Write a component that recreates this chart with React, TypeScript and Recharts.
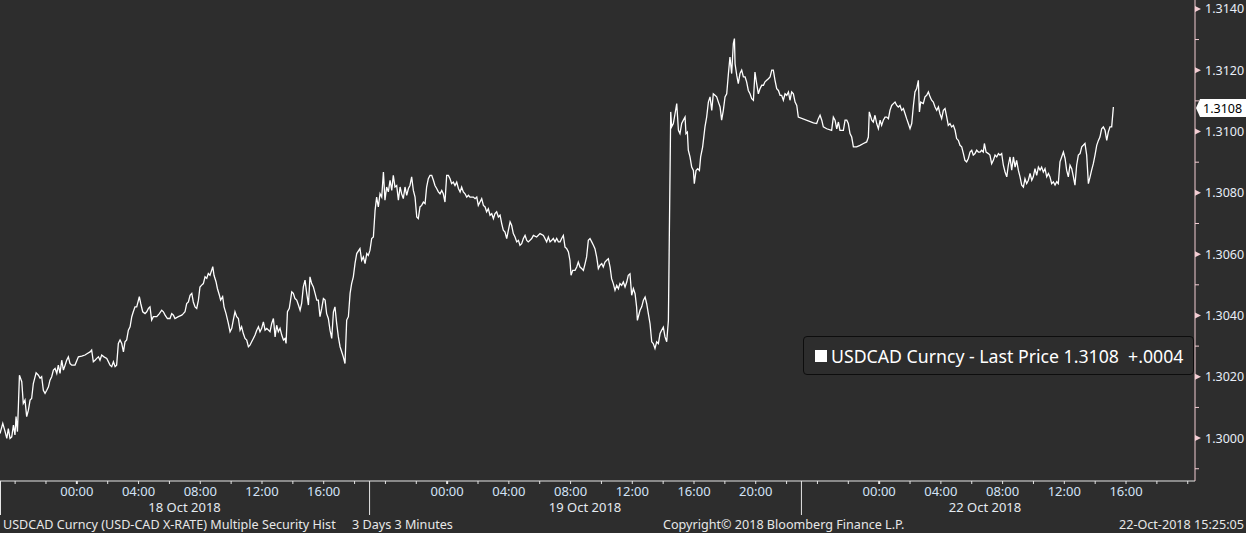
import React from 'react';
import { LineChart, Line, XAxis, YAxis, ReferenceLine, Legend } from 'recharts';

// chart hours: 0 = 18 Oct 00:00, weekend removed (22 Oct 00:00 = 52)
const oct18Session: [number, number][] = [
  [-4.98, 1.30015], [-4.8, 1.30048], [-4.65, 1.30021], [-4.54, 1.29999], [-4.44, 1.30031], [-4.33, 1.29999], [-4.22, 1.30004],
  [-4.11, 1.30042], [-4.01, 1.3001], [-3.94, 1.3007], [-3.85, 1.30021], [-3.79, 1.30102], [-3.72, 1.30205], [-3.57, 1.30184],
  [-3.47, 1.30113], [-3.36, 1.30124], [-3.25, 1.3007], [-3.14, 1.30091], [-3.03, 1.30124], [-2.93, 1.30129], [-2.82, 1.30178],
  [-2.64, 1.30213], [-2.49, 1.30205], [-2.38, 1.30195], [-2.28, 1.302], [-2.17, 1.30156], [-2.06, 1.30146], [-1.95, 1.30156],
  [-1.84, 1.30167], [-1.74, 1.30189], [-1.63, 1.302], [-1.52, 1.30222], [-1.41, 1.30227], [-1.3, 1.30211], [-1.2, 1.30238],
  [-1.09, 1.30211], [-0.98, 1.30254], [-0.87, 1.30222], [-0.76, 1.30238], [-0.66, 1.30254], [-0.55, 1.30265], [-0.44, 1.30243],
  [-0.33, 1.30238], [-0.12, 1.30238], [0.1, 1.30265], [0.32, 1.30267], [0.53, 1.30271], [0.68, 1.30276], [0.86, 1.30281],
  [0.96, 1.30287], [1.07, 1.30249], [1.18, 1.30254], [1.29, 1.3026], [1.4, 1.30265], [1.5, 1.30254], [1.61, 1.30271],
  [1.76, 1.30265], [1.94, 1.3026], [2.15, 1.30238], [2.26, 1.30233], [2.37, 1.30249], [2.48, 1.30233], [2.58, 1.30238],
  [2.69, 1.30309], [2.8, 1.3032], [2.91, 1.30309], [3.02, 1.30281], [3.12, 1.30314], [3.23, 1.3032], [3.34, 1.30352],
  [3.45, 1.30363], [3.56, 1.30396], [3.66, 1.30412], [3.77, 1.30428], [3.88, 1.30428], [4.05, 1.30461], [4.14, 1.30439],
  [4.27, 1.30412], [4.42, 1.30406], [4.53, 1.30412], [4.64, 1.30423], [4.74, 1.30428], [4.85, 1.30385], [4.96, 1.30396],
  [5.18, 1.30396], [5.35, 1.30406], [5.5, 1.30417], [5.61, 1.30412], [5.72, 1.30401], [5.87, 1.3039], [6.04, 1.3039],
  [6.15, 1.30406], [6.26, 1.30401], [6.36, 1.3039], [6.58, 1.30396], [6.8, 1.30401], [6.9, 1.30406], [7.01, 1.30412],
  [7.12, 1.30439], [7.23, 1.30444], [7.34, 1.30466], [7.45, 1.30472], [7.55, 1.30444], [7.66, 1.30428], [7.77, 1.30423],
  [7.88, 1.3045], [7.98, 1.30493], [8.09, 1.30499], [8.2, 1.30504], [8.31, 1.30526], [8.42, 1.30521], [8.52, 1.30537],
  [8.63, 1.30531], [8.74, 1.30548], [8.81, 1.30559], [8.89, 1.30531], [9.02, 1.3051], [9.11, 1.30488], [9.24, 1.30466],
  [9.32, 1.3045], [9.45, 1.30461], [9.54, 1.30428], [9.67, 1.30406], [9.82, 1.30374], [9.93, 1.30347], [10.04, 1.30358],
  [10.14, 1.30385], [10.25, 1.30412], [10.36, 1.30396], [10.47, 1.3039], [10.58, 1.30352], [10.68, 1.30363], [10.79, 1.30341],
  [10.9, 1.30325], [11.01, 1.3032], [11.12, 1.30298], [11.22, 1.30303], [11.33, 1.30314], [11.44, 1.30325], [11.55, 1.30336],
  [11.66, 1.30352], [11.77, 1.30363], [11.87, 1.30347], [11.98, 1.30358], [12.09, 1.30379], [12.2, 1.30352], [12.31, 1.30358],
  [12.52, 1.30347], [12.63, 1.30374], [12.74, 1.3039], [12.85, 1.3033], [12.95, 1.30368], [13.06, 1.30347], [13.17, 1.30358],
  [13.28, 1.30336], [13.39, 1.3032], [13.49, 1.30325], [13.56, 1.30309], [13.65, 1.30412], [13.77, 1.30423], [13.93, 1.30477],
  [14.03, 1.30472], [14.14, 1.30455], [14.25, 1.3045], [14.36, 1.30434], [14.47, 1.30417], [14.57, 1.30439], [14.68, 1.30493],
  [14.79, 1.30515], [14.9, 1.30472], [15.01, 1.30434], [15.11, 1.30526], [15.22, 1.30504], [15.33, 1.30493], [15.44, 1.30472],
  [15.55, 1.3045], [15.65, 1.3045], [15.76, 1.30396], [15.87, 1.30423], [15.98, 1.30455], [16.09, 1.3045], [16.19, 1.30406],
  [16.3, 1.3039], [16.41, 1.30352], [16.52, 1.30325], [16.63, 1.30412], [16.73, 1.30428], [16.84, 1.30374], [16.95, 1.3033],
  [17.06, 1.30298], [17.17, 1.30281], [17.27, 1.30265], [17.38, 1.30243], [17.49, 1.30385], [17.6, 1.30396], [17.71, 1.30472],
  [17.81, 1.30504], [17.92, 1.30526], [18.03, 1.3057], [18.14, 1.30602], [18.35, 1.30618], [18.46, 1.3058], [18.57, 1.30591],
  [18.68, 1.30569], [18.79, 1.30602], [18.89, 1.30596],
];

const oct19Session: [number, number][] = [
  [19.0, 1.30613], [19.11, 1.30651], [19.22, 1.30656], [19.33, 1.30743], [19.43, 1.30786], [19.54, 1.30754], [19.65, 1.30797],
  [19.76, 1.30786], [19.87, 1.30868], [19.97, 1.30776], [20.08, 1.30819], [20.19, 1.30803], [20.3, 1.30841], [20.41, 1.30808],
  [20.51, 1.30857], [20.62, 1.30819], [20.73, 1.30824], [20.84, 1.30776], [20.95, 1.30819], [21.05, 1.30797], [21.16, 1.30781],
  [21.27, 1.30819], [21.38, 1.30792], [21.49, 1.30814], [21.59, 1.30824], [21.7, 1.30852], [21.81, 1.30808], [21.92, 1.30786],
  [22.03, 1.30721], [22.13, 1.30716], [22.24, 1.30754], [22.35, 1.30759], [22.46, 1.3077], [22.57, 1.30765], [22.67, 1.30819],
  [22.78, 1.30846], [22.89, 1.30857], [23.0, 1.30857], [23.11, 1.30841], [23.21, 1.30824], [23.32, 1.30814], [23.43, 1.30803],
  [23.54, 1.30797], [23.65, 1.30808], [23.75, 1.30797], [23.86, 1.3077], [23.97, 1.30857], [24.08, 1.30857], [24.19, 1.30846],
  [24.29, 1.3083], [24.4, 1.30835], [24.51, 1.30824], [24.62, 1.30835], [24.73, 1.30814], [24.84, 1.30803], [24.94, 1.30819],
  [25.05, 1.30803], [25.16, 1.30797], [25.27, 1.30786], [25.38, 1.30792], [25.48, 1.30786], [25.7, 1.30786], [25.81, 1.30781],
  [25.92, 1.30786], [26.02, 1.30759], [26.13, 1.3077], [26.24, 1.30781], [26.35, 1.30759], [26.46, 1.30754], [26.56, 1.30738],
  [26.67, 1.30748], [26.78, 1.30727], [26.89, 1.30732], [27.0, 1.30716], [27.1, 1.30732], [27.21, 1.30738], [27.32, 1.30721],
  [27.43, 1.30727], [27.54, 1.30699], [27.64, 1.30678], [27.75, 1.30672], [27.86, 1.30651], [27.97, 1.30678], [28.08, 1.30705],
  [28.18, 1.30694], [28.29, 1.30667], [28.4, 1.30656], [28.51, 1.3064], [28.62, 1.30645], [28.72, 1.30629], [28.83, 1.30634],
  [28.94, 1.30651], [29.05, 1.30661], [29.16, 1.30645], [29.26, 1.3064], [29.37, 1.30645], [29.48, 1.30651], [29.59, 1.30661],
  [29.8, 1.30656], [30.02, 1.30667], [30.24, 1.30661], [30.45, 1.3064], [30.56, 1.30656], [30.67, 1.3064], [30.78, 1.30645],
  [30.88, 1.30651], [30.99, 1.3064], [31.1, 1.30651], [31.21, 1.3064], [31.32, 1.3064], [31.42, 1.30651], [31.53, 1.30661],
  [31.64, 1.30623], [31.75, 1.30618], [31.86, 1.30607], [31.96, 1.3058], [32.03, 1.30531], [32.14, 1.30547], [32.29, 1.30547],
  [32.4, 1.30558], [32.5, 1.30574], [32.61, 1.30558], [32.72, 1.30553], [32.83, 1.30547], [32.94, 1.30569], [33.04, 1.30591],
  [33.15, 1.30645], [33.26, 1.30651], [33.37, 1.3064], [33.48, 1.30629], [33.58, 1.30618], [33.69, 1.30591], [33.8, 1.30553],
  [33.91, 1.30564], [34.02, 1.30569], [34.12, 1.30558], [34.23, 1.30574], [34.34, 1.3058], [34.45, 1.30585], [34.56, 1.30558],
  [34.66, 1.3052], [34.77, 1.30504], [34.88, 1.30482], [34.99, 1.30498], [35.1, 1.30487], [35.2, 1.30504], [35.31, 1.30498],
  [35.42, 1.30509], [35.53, 1.30493], [35.64, 1.30509], [35.74, 1.30531], [35.85, 1.30536], [35.96, 1.30466], [36.07, 1.30488],
  [36.18, 1.30471], [36.28, 1.30428], [36.33, 1.30384], [36.5, 1.30417], [36.61, 1.30428], [36.72, 1.3045], [36.83, 1.3046],
  [36.93, 1.30439], [37.04, 1.30406], [37.15, 1.30373], [37.26, 1.30314], [37.36, 1.30308], [37.47, 1.30292], [37.58, 1.30314],
  [37.69, 1.30308], [37.8, 1.30341], [37.9, 1.30352], [38.01, 1.30362], [38.12, 1.3033], [38.23, 1.30314], [38.34, 1.30384],
  [38.49, 1.31064], [38.55, 1.31015], [38.66, 1.31026], [38.77, 1.31058], [38.88, 1.31091], [38.99, 1.31004], [39.09, 1.30993],
  [39.2, 1.31026], [39.31, 1.31037], [39.42, 1.31047], [39.48, 1.30993], [39.57, 1.30998], [39.63, 1.30939], [39.74, 1.30917],
  [39.85, 1.30884], [39.96, 1.30873], [40.02, 1.3083], [40.13, 1.30873], [40.24, 1.30879], [40.35, 1.30873], [40.43, 1.30917],
  [40.56, 1.3095], [40.71, 1.31015], [40.82, 1.31047], [40.93, 1.31096], [41.04, 1.31113], [41.15, 1.31069], [41.25, 1.31123],
  [41.36, 1.31118], [41.47, 1.31113], [41.58, 1.31096], [41.69, 1.3108], [41.79, 1.31037], [41.9, 1.31069], [42.01, 1.31113],
  [42.12, 1.31123], [42.23, 1.31189], [42.33, 1.31243], [42.44, 1.31189], [42.55, 1.31287], [42.62, 1.31303], [42.66, 1.31221],
  [42.77, 1.31183], [42.87, 1.31156], [42.98, 1.31189], [43.09, 1.312], [43.2, 1.31178], [43.31, 1.31178], [43.41, 1.31162],
  [43.52, 1.31134], [43.63, 1.31123], [43.74, 1.31107], [43.85, 1.31102], [43.95, 1.31194], [44.06, 1.31156], [44.17, 1.31123],
  [44.28, 1.3114], [44.39, 1.31151], [44.5, 1.31151], [44.6, 1.31162], [44.71, 1.31167], [44.82, 1.31172], [44.93, 1.31178],
  [45.04, 1.312], [45.14, 1.312], [45.25, 1.31167], [45.36, 1.3114], [45.47, 1.31134], [45.58, 1.31118], [45.68, 1.31118],
  [45.79, 1.31102], [45.9, 1.31123], [46.01, 1.31118], [46.12, 1.31129], [46.22, 1.31102], [46.33, 1.31129], [46.44, 1.31123],
  [46.55, 1.31096], [46.66, 1.31085], [46.76, 1.31047],
];

const oct22Session: [number, number][] = [
  [47.74, 1.31028], [47.95, 1.31026], [48.06, 1.31042], [48.17, 1.31053], [48.28, 1.31037], [48.38, 1.31015], [48.6, 1.31009],
  [48.92, 1.31004], [49.03, 1.31047], [49.14, 1.31037], [49.25, 1.31009], [49.36, 1.31031], [49.46, 1.31004], [49.68, 1.31004],
  [49.79, 1.31037], [49.9, 1.31037], [50.0, 1.31026], [50.11, 1.30993], [50.22, 1.30982], [50.33, 1.3095], [50.54, 1.3095],
  [50.76, 1.30955], [50.98, 1.30961], [51.19, 1.30966], [51.3, 1.30982], [51.36, 1.31064], [51.52, 1.31037], [51.62, 1.31031],
  [51.73, 1.31053], [51.84, 1.31026], [51.95, 1.31009], [52.06, 1.31037], [52.16, 1.3102], [52.27, 1.31037], [52.38, 1.31047],
  [52.49, 1.31047], [52.6, 1.31042], [52.7, 1.31069], [52.81, 1.31085], [52.92, 1.31091], [53.03, 1.31096], [53.14, 1.31085],
  [53.24, 1.3108], [53.35, 1.31085], [53.46, 1.31069], [53.57, 1.31075], [53.68, 1.31058], [53.78, 1.31042], [53.89, 1.31026],
  [54.0, 1.31009], [54.11, 1.31026], [54.22, 1.31085], [54.32, 1.31129], [54.43, 1.3114], [54.54, 1.31167], [54.61, 1.31064],
  [54.69, 1.31096], [54.86, 1.31091], [54.97, 1.31113], [55.08, 1.31118], [55.19, 1.31129], [55.3, 1.31113], [55.4, 1.31102],
  [55.51, 1.31096], [55.62, 1.3108], [55.73, 1.31069], [55.84, 1.3108], [55.94, 1.31058], [56.05, 1.31042], [56.16, 1.31069],
  [56.27, 1.31075], [56.38, 1.31047], [56.48, 1.3102], [56.59, 1.31026], [56.7, 1.31015], [56.81, 1.3102], [56.92, 1.31004],
  [57.02, 1.30977], [57.13, 1.30971], [57.24, 1.30955], [57.35, 1.3095], [57.46, 1.30928], [57.56, 1.30906], [57.67, 1.30901],
  [57.78, 1.30912], [57.89, 1.30933], [58.0, 1.30939], [58.1, 1.30923], [58.21, 1.30928], [58.32, 1.30939], [58.43, 1.30933],
  [58.54, 1.30933], [58.64, 1.30939], [58.75, 1.30933], [58.82, 1.30961], [58.93, 1.30933], [59.08, 1.30928], [59.18, 1.30923],
  [59.29, 1.30895], [59.4, 1.30906], [59.51, 1.30923], [59.62, 1.30917], [59.73, 1.30928], [59.83, 1.30923], [59.94, 1.30928],
  [60.05, 1.3089], [60.16, 1.30868], [60.27, 1.30852], [60.37, 1.3089], [60.48, 1.30917], [60.59, 1.30874], [60.7, 1.30917],
  [60.81, 1.30884], [60.91, 1.30906], [61.02, 1.30874], [61.13, 1.30852], [61.24, 1.30825], [61.35, 1.30819], [61.45, 1.30846],
  [61.56, 1.3083], [61.67, 1.30841], [61.78, 1.30863], [61.89, 1.30841], [61.99, 1.30852], [62.1, 1.30879], [62.21, 1.30857],
  [62.32, 1.30884], [62.43, 1.30874], [62.53, 1.30884], [62.64, 1.30868], [62.75, 1.30879], [62.86, 1.30852], [62.97, 1.30863],
  [63.07, 1.30852], [63.18, 1.3083], [63.29, 1.30836], [63.4, 1.30825], [63.51, 1.30836], [63.61, 1.3083], [63.72, 1.30901],
  [63.83, 1.30917], [63.94, 1.30933], [64.05, 1.30912], [64.15, 1.30874], [64.26, 1.30852], [64.37, 1.3089], [64.48, 1.30879],
  [64.59, 1.30852], [64.69, 1.30825], [64.8, 1.3089], [64.91, 1.30923], [65.02, 1.30928], [65.13, 1.3095], [65.23, 1.30955],
  [65.34, 1.30961], [65.45, 1.30923], [65.56, 1.3083], [65.67, 1.30852], [65.77, 1.30874], [65.88, 1.30895], [65.99, 1.30923],
  [66.1, 1.30955], [66.21, 1.30971], [66.31, 1.30982], [66.42, 1.31009], [66.53, 1.31015], [66.64, 1.31004], [66.75, 1.30971],
  [66.85, 1.30998], [66.96, 1.31015], [67.07, 1.31015], [67.18, 1.3108],
];

const lastPrice = 1.3108;
const lastChange = '+.0004';
const seriesName = 'USDCAD Curncy - Last Price';

// x axis: tick every 2 hours, labels every 4 hours inside each session
const hourTicks = [-4, -2, 0, 2, 4, 6, 8, 10, 12, 14, 16, 18, 20, 22, 24, 26, 28, 30, 32, 34, 36, 38, 40, 42, 44, 46,
  48, 50, 52, 54, 56, 58, 60, 62, 64, 66, 68, 70, 72];
const sessionBreaks = [-4.98, 18.94, 46.93];
const midnightHours = [0, 24, 52];
const labelHours = [0, 4, 8, 12, 16, 24, 28, 32, 36, 40, 44, 52, 56, 60, 64, 68];
const labelTexts = ['00:00', '04:00', '08:00', '12:00', '16:00', '00:00', '04:00', '08:00', '12:00', '16:00', '20:00',
  '00:00', '04:00', '08:00', '12:00', '16:00'];
const dateTicks = [6.98, 32.94, 58.86];
const dateLabels = ['18 Oct 2018', '19 Oct 2018', '22 Oct 2018'];

const yMajor = [1.3, 1.302, 1.304, 1.306, 1.308, 1.31, 1.312, 1.314];
const yMinor = [1.299, 1.301, 1.303, 1.305, 1.307, 1.309, 1.311, 1.313];

const BG = '#2d2d2d';
const FONT = '"Noto Sans", "DejaVu Sans", sans-serif';
const PINK = '#f3cdd3';

const data = [...oct18Session, ...oct19Session, ...oct22Session].map(([t, p]) => ({ t, p }));

function TimeTick(props: any) {
  const { x, y, payload } = props;
  const v = payload.value;
  if (sessionBreaks.includes(v)) {
    return <line x1={x + 0.5} x2={x + 0.5} y1={y} y2={y + 34} stroke="#e6e6e6" strokeWidth={1} />;
  }
  const d = dateTicks.indexOf(v);
  if (d >= 0) {
    return (
      <text x={x} y={y + 31} textAnchor="middle" fill="#e4eaf0" fontSize={13} fontFamily={FONT}>
        {dateLabels[d]}
      </text>
    );
  }
  const i = labelHours.indexOf(v);
  const mid = midnightHours.includes(v);
  return (
    <g>
      <line x1={x} x2={x} y1={y} y2={y + 3} stroke="#e6e6e6" strokeWidth={mid ? 2 : 1} />
      {i >= 0 && (
        <text x={x} y={y + 15} textAnchor="middle" fill="#d3e3f7" fontSize={13} fontFamily={FONT}>
          {labelTexts[i]}
        </text>
      )}
    </g>
  );
}

function PriceTick(props: any) {
  const { x, y, payload } = props;
  const v = payload.value;
  if (yMinor.includes(v)) {
    return <line x1={x} x2={x + 4} y1={y} y2={y} stroke={PINK} />;
  }
  return (
    <g>
      <polygon points={`${x},${y - 3} ${x + 6},${y} ${x},${y + 3}`} fill={PINK} />
      <text x={x + 10} y={y + 4.5} fill="#e8eef8" fontSize={12.5} fontFamily={FONT}>
        {v.toFixed(4)}
      </text>
    </g>
  );
}

function LastTag(props: any) {
  const vb = props.viewBox || {};
  const rx = vb.x + vb.width;
  const y = vb.y;
  return (
    <g>
      <polygon
        points={`${rx + 1},${y + 1} ${rx + 5},${y - 8} ${rx + 51},${y - 8} ${rx + 51},${y + 10} ${rx + 5},${y + 10}`}
        fill="#ffffff"
      />
      <text x={rx + 8} y={y + 6} fill="#000" fontSize={12.5} fontFamily={FONT}>
        {lastPrice.toFixed(4)}
      </text>
    </g>
  );
}

function LegendBox(props: any) {
  const name = props.payload && props.payload[0] ? props.payload[0].value : seriesName;
  return (
    <div
      style={{
        boxSizing: 'border-box',
        width: 391,
        height: 39,
        border: '1px solid #0d0d0d',
        borderRadius: 4,
        background: BG,
        display: 'flex',
        alignItems: 'center',
        paddingLeft: 11,
        fontFamily: FONT,
        fontSize: 17.7,
        color: '#ffffff',
        whiteSpace: 'pre',
      }}
    >
      <span style={{ display: 'inline-block', width: 12, height: 12, background: '#fff', marginRight: 4 }} />
      <span>{`${name} ${lastPrice.toFixed(4)}  ${lastChange}`}</span>
    </div>
  );
}

export default function App() {
  const footer: React.CSSProperties = {
    position: 'absolute',
    top: 516,
    height: 17,
    lineHeight: '17px',
    fontSize: 12.6,
    color: '#e8e8e8',
    whiteSpace: 'pre',
    fontFamily: FONT,
  };
  return (
    <div style={{ position: 'absolute', left: 0, top: 0, width: 1246, height: 533, background: BG, overflow: 'hidden' }}>
      <LineChart width={1246} height={515} data={data} margin={{ top: 0, right: 0, left: 0, bottom: 0 }}>
        <XAxis
          dataKey="t"
          type="number"
          domain={[-4.98, 72.47]}
          allowDataOverflow
          ticks={[...hourTicks, ...sessionBreaks, ...dateTicks]}
          interval={0}
          tick={<TimeTick />}
          tickLine={false}
          tickSize={0}
          tickMargin={0}
          axisLine={{ stroke: '#e6e6e6' }}
          height={34}
        />
        <YAxis
          orientation="right"
          type="number"
          domain={[1.2986, 1.31429]}
          allowDataOverflow
          ticks={[...yMajor, ...yMinor]}
          interval={0}
          tick={<PriceTick />}
          tickLine={false}
          tickSize={0}
          tickMargin={0}
          axisLine={{ stroke: PINK }}
          width={51}
        />
        <ReferenceLine y={lastPrice} stroke="none" label={<LastTag />} />
        <Legend
          layout="horizontal"
          verticalAlign="middle"
          align="center"
          content={<LegendBox />}
          wrapperStyle={{ left: 803, top: 336, width: 391, height: 39 }}
        />
        <Line
          name={seriesName}
          dataKey="p"
          type="linear"
          stroke="#ffffff"
          strokeWidth={1.3}
          dot={false}
          activeDot={false}
          isAnimationActive={false}
        />
      </LineChart>
      <div style={{ ...footer, left: 3 }}>USDCAD Curncy (USD-CAD X-RATE) Multiple Security Hist</div>
      <div style={{ ...footer, left: 352 }}>3 Days 3 Minutes</div>
      <div style={{ ...footer, left: 663 }}>Copyright© 2018 Bloomberg Finance L.P.</div>
      <div style={{ ...footer, right: 2 }}>22-Oct-2018 15:25:05</div>
    </div>
  );
}
